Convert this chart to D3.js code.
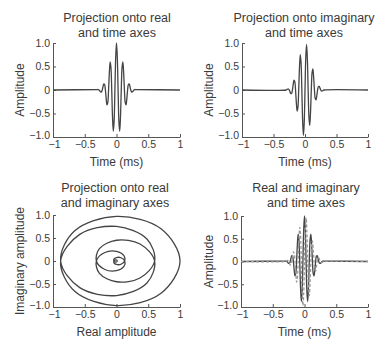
<!DOCTYPE html>
<html>
<head>
<meta charset="utf-8">
<script src="https://cdn.jsdelivr.net/npm/d3@7"></script>
<style>
html,body{margin:0;padding:0;background:#fff;}
svg{display:block;font-family:"Liberation Sans",Arial,sans-serif;}
</style>
</head>
<body>
<svg id="chart" width="375" height="343"></svg>
<script>
// Sample times (ms), every 1/8 period of the 10 kHz carrier
const times = [-0.3,-0.2875,-0.275,-0.2625,-0.25,-0.2375,-0.225,-0.2125,-0.2,-0.1875,-0.175,-0.1625,-0.15,-0.1375,-0.125,-0.1125,-0.1,-0.0875,-0.075,-0.0625,-0.05,-0.0375,-0.025,-0.0125,0,0.0125,0.025,0.0375,0.05,0.0625,0.075,0.0875,0.1,0.1125,0.125,0.1375,0.15,0.1625,0.175,0.1875,0.2,0.2125,0.225,0.2375,0.25,0.2625,0.275,0.2875,0.3];
const realAmp = [0.010,0.010,0,-0.021,-0.041,-0.040,0,0.071,0.130,0.117,0,-0.184,-0.317,-0.269,0,0.370,0.600,0.479,0,-0.579,-0.880,-0.658,0,0.701,1.000,0.701,0,-0.658,-0.880,-0.579,0,0.479,0.600,0.370,0,-0.269,-0.317,-0.184,0,0.117,0.130,0.071,0,-0.040,-0.041,-0.021,0,0.010,0.010];
const imagAmp = [0,0.010,0.021,0.021,0,-0.040,-0.076,-0.071,0,0.117,0.210,0.184,0,-0.269,-0.451,-0.370,0,0.479,0.751,0.579,0,-0.658,-0.969,-0.701,0,0.701,0.969,0.658,0,-0.579,-0.751,-0.479,0,0.370,0.451,0.269,0,-0.184,-0.210,-0.117,0,0.071,0.076,0.040,0,-0.021,-0.021,-0.010,0];
const timeRange = [-1, 1];
const xTicks = [-1,-0.5,0,0.5,1];
const xTickLabels = ["\u22121","\u22120.5","0","0.5","1"];
const yTicks = [-1,-0.5,0,0.5,1];
const yTickLabels = ["\u22121.0","\u22120.5","0","0.5","1.0"];

const svg = d3.select("#chart");
const ink = "#3a3a3a";
const lineCol = "#444";

function panel(o){
  const x = d3.scaleLinear().domain([-1,1]).range([o.x0,o.x1]);
  const y = d3.scaleLinear().domain([-1,1]).range([o.y1,o.y0]);
  const g = svg.append("g");
  o.title.forEach((t,i)=>{
    g.append("text").attr("x",o.tx).attr("y",o.ty + i*15)
      .attr("text-anchor","middle").attr("font-size",12.5).attr("fill",ink).text(t);
  });
  const xa = d3.axisBottom(x).tickValues(xTicks).tickSizeInner(-3).tickSizeOuter(0)
    .tickPadding(4).tickFormat((d,i)=>xTickLabels[i]);
  const ya = d3.axisLeft(y).tickValues(yTicks).tickSizeInner(-3).tickSizeOuter(0)
    .tickPadding(3).tickFormat((d,i)=>yTickLabels[i]);
  const gx = g.append("g").attr("transform",`translate(0,${o.y1})`).call(xa);
  const gy = g.append("g").attr("transform",`translate(${o.x0},0)`).call(ya);
  [gx,gy].forEach(a=>{
    a.select(".domain").attr("stroke","#555").attr("stroke-width",1);
    a.selectAll(".tick line").attr("stroke","#555");
    a.selectAll(".tick text").attr("fill",ink).attr("font-size",10.5).attr("font-family","'Liberation Sans',Arial,sans-serif");
  });
  gy.selectAll(".tick text").filter(d=>d===-1).attr("dy","0.1em");
  gx.selectAll(".tick text").filter(d=>d===-1).attr("dx","0.1em");
  g.append("text").attr("x",(o.x0+o.x1)/2).attr("y",o.y1+29)
    .attr("text-anchor","middle").attr("font-size",12).attr("fill",ink).text(o.xlabel);
  g.append("text").attr("transform",`translate(${o.lx},${(o.y0+o.y1)/2}) rotate(-90)`)
    .attr("text-anchor","middle").attr("dominant-baseline","central")
    .attr("font-size",12).attr("fill",ink).text(o.ylabel);
  return {g,x,y};
}

function timeSeries(vals){
  const pts = [[timeRange[0],0]];
  times.forEach((t,i)=>pts.push([t,vals[i]]));
  pts.push([timeRange[1],0]);
  return pts;
}

// Panel 1
{
  const p = panel({x0:53,x1:180,y0:43,y1:137,tx:117,ty:22,lx:20,
    title:["Projection onto real","and time axes"],xlabel:"Time (ms)",ylabel:"Amplitude"});
  const line = d3.line().x(d=>p.x(d[0])).y(d=>p.y(d[1])).curve(d3.curveCatmullRom);
  p.g.append("path").datum(timeSeries(realAmp)).attr("d",line)
    .attr("fill","none").attr("stroke",lineCol).attr("stroke-width",1.3);
}
// Panel 2
{
  const p = panel({x0:242,x1:368,y0:43,y1:137,tx:304,ty:22,lx:209,
    title:["Projection onto imaginary","and time axes"],xlabel:"Time (ms)",ylabel:"Amplitude"});
  const line = d3.line().x(d=>p.x(d[0])).y(d=>p.y(d[1])).curve(d3.curveCatmullRom);
  p.g.append("path").datum(timeSeries(imagAmp)).attr("d",line)
    .attr("fill","none").attr("stroke",lineCol).attr("stroke-width",1.3);
}
// Panel 3
{
  const p = panel({x0:53,x1:180,y0:215,y1:307,tx:115,ty:192,lx:20,
    title:["Projection onto real","and imaginary axes"],xlabel:"Real amplitude",ylabel:"Imaginary amplitude"});
  const pts = times.map((t,i)=>[realAmp[i],imagAmp[i]]);
  const line = d3.line().x(d=>p.x(d[0])).y(d=>p.y(d[1])).curve(d3.curveCatmullRom);
  p.g.append("path").datum(pts).attr("d",line)
    .attr("fill","none").attr("stroke",lineCol).attr("stroke-width",1.3);
}
// Panel 4
{
  const p = panel({x0:241,x1:368,y0:216,y1:307,tx:306,ty:192,lx:209,
    title:["Real and imaginary","and time axes"],xlabel:"Time (ms)",ylabel:"Amplitude"});
  const line = d3.line().x(d=>p.x(d[0])).y(d=>p.y(d[1])).curve(d3.curveCatmullRom);
  p.g.append("path").datum(timeSeries(realAmp)).attr("d",line)
    .attr("fill","none").attr("stroke",lineCol).attr("stroke-width",1.3);
  p.g.append("path").datum(timeSeries(imagAmp)).attr("d",line)
    .attr("fill","none").attr("stroke","#999").attr("stroke-width",1.3)
    .attr("stroke-dasharray","3,2");
}
</script>
</body>
</html>
